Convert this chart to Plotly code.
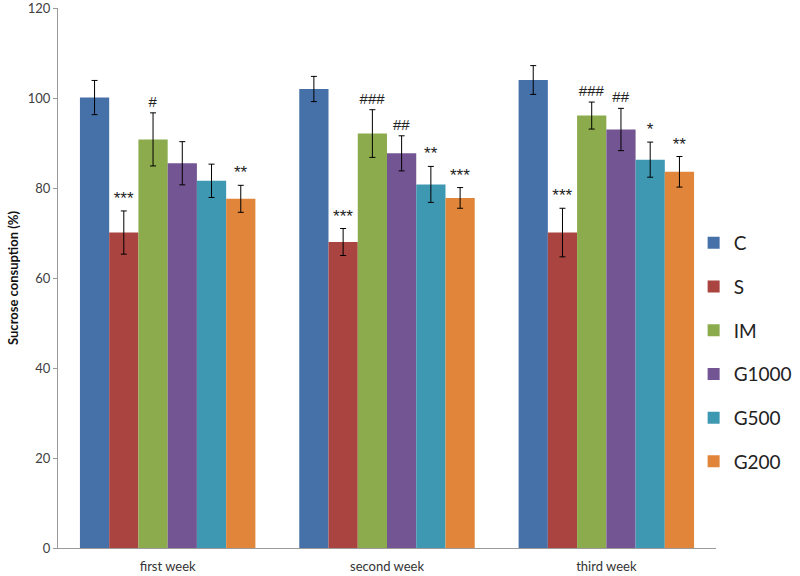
import plotly.graph_objects as go

weeks = ["first week", "second week", "third week"]
groups = ["C", "S", "IM", "G1000", "G500", "G200"]
colors = ["#4570a8", "#aa4441", "#8bab4d", "#745593", "#3f98b2", "#e0853a"]

values = {
    "C": [100.1, 102.0, 104.0],
    "S": [70.1, 68.0, 70.1],
    "IM": [90.8, 92.1, 96.1],
    "G1000": [85.5, 87.7, 93.0],
    "G500": [81.6, 80.8, 86.3],
    "G200": [77.6, 77.8, 83.6],
}
errors = {
    "C": [3.8, 2.8, 3.2],
    "S": [4.8, 3.0, 5.4],
    "IM": [5.9, 5.3, 3.0],
    "G1000": [4.8, 3.9, 4.7],
    "G500": [3.7, 4.0, 3.9],
    "G200": [3.0, 2.3, 3.4],
}
signif = {
    "C": ["", "", ""],
    "S": ["***", "***", "***"],
    "IM": ["#", "###", "###"],
    "G1000": ["", "##", "##"],
    "G500": ["", "**", "*"],
    "G200": ["**", "***", "**"],
}
y_ticks = [0, 20, 40, 60, 80, 100, 120]

FONT = "Lato, Carlito, Calibri, Arial, sans-serif"

fig = go.Figure()
for i, g in enumerate(groups):
    fig.add_trace(go.Bar(
        name=g, x=weeks, y=values[g],
        marker=dict(color=colors[i], line=dict(width=0)),
        error_y=dict(type="data", array=errors[g], visible=True,
                     color="black", thickness=1, width=3),
        legendgroup=g, hoverinfo="skip",
    ))

# invisible overlay bars (height = value + error) carrying the significance labels
for i, g in enumerate(groups):
    tops = [v + e for v, e in zip(values[g], errors[g])]
    sizes = [17 if "*" in s else 15 for s in signif[g]]
    fig.add_trace(go.Bar(
        x=weeks, y=tops, xaxis="x2", yaxis="y",
        marker=dict(color="rgba(0,0,0,0)", line=dict(width=0)),
        text=signif[g], textposition="outside", cliponaxis=False,
        textfont=dict(family="Arial, sans-serif", size=sizes, color="#222222"),
        showlegend=False, hoverinfo="skip",
    ))

fig.update_layout(
    width=800, height=576,
    margin=dict(l=58, r=84, t=8, b=28, autoexpand=False),
    paper_bgcolor="white", plot_bgcolor="white",
    barmode="group", bargap=0.2, bargroupgap=0,
    font=dict(family=FONT, size=13, color="#404040"),
    showlegend=True,
    legend=dict(x=0.966, y=0.6, xanchor="left", yanchor="top",
                font=dict(family=FONT, size=19, color="#222222"),
                traceorder="grouped", tracegroupgap=16,
                itemwidth=30, bgcolor="rgba(0,0,0,0)"),
    xaxis=dict(showline=True, linecolor="#9a9a9a", linewidth=1,
               ticks="", showgrid=False, automargin=False,
               ticklabelstandoff=6,
               tickfont=dict(family=FONT, size=13, color="#333333")),
    xaxis2=dict(overlaying="x", matches="x", visible=False),
    yaxis=dict(range=[0, 120], tickvals=y_ticks, showline=True, linecolor="#9a9a9a",
               linewidth=1, ticks="outside", ticklen=4, tickcolor="#9a9a9a",
               showgrid=False, zeroline=False, automargin=False,
               ticklabeloverflow="allow",
               tickfont=dict(family=FONT, size=13, color="#404040"),
               title=dict(text="<b>Sucrose consuption (%)</b>",
                          font=dict(family=FONT, size=13, color="#111111"),
                          standoff=6)),
)

fig.write_html("out.html", config={"displayModeBar": False},
               post_script="document.body.style.margin='0';document.body.style.padding='0';")
